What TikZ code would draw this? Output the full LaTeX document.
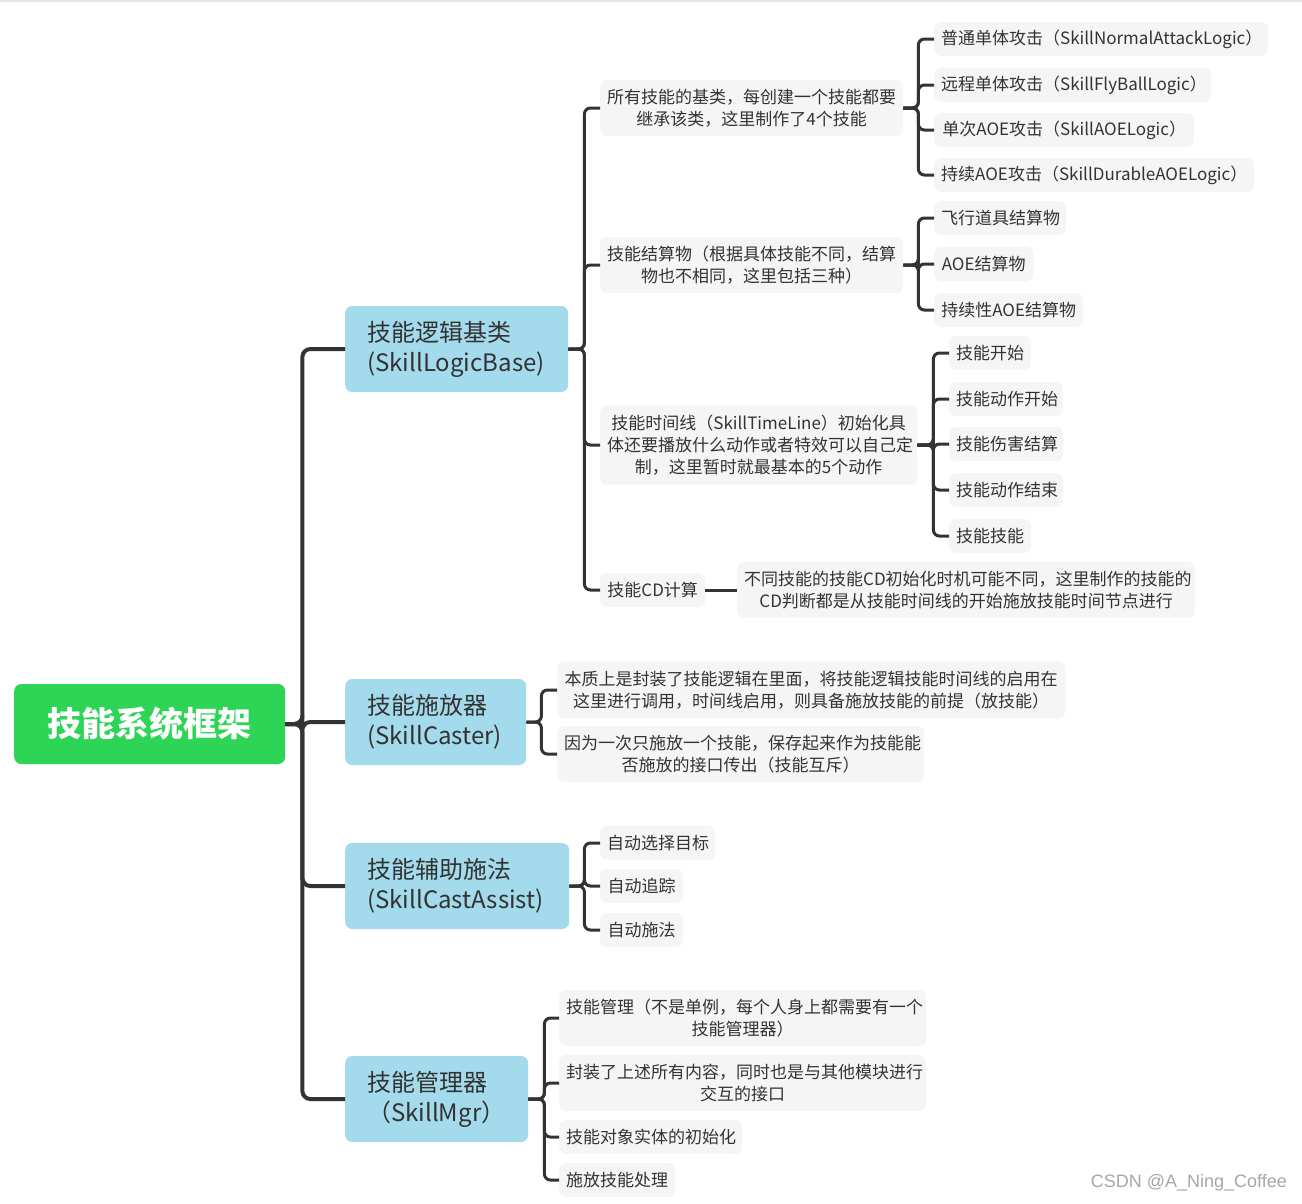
\documentclass[tikz,border=0pt]{standalone}
\usepackage{fontspec}
\setmainfont{Noto Sans CJK SC}
\newfontfamily\wmfont{Liberation Sans}
\definecolor{rootg}{HTML}{2DD455}
\definecolor{lblue}{HTML}{A3DAEC}
\definecolor{gfill}{HTML}{F5F5F5}
\definecolor{ink}{HTML}{333333}
\begin{document}
\begin{tikzpicture}[x=1pt,y=-1pt,
  rootbox/.style={fill=rootg, rounded corners=7, text=white, font=\fontsize{34}{40}\selectfont\bfseries, anchor=west, minimum width=271, minimum height=80, inner sep=0},
  lonebox/.style={fill=lblue, rounded corners=7, text=ink, font=\fontsize{24}{30}\selectfont, align=left, anchor=west, minimum height=86, inner xsep=22, inner ysep=0},
  gbox/.style={fill=gfill, rounded corners=7, text=ink, font=\fontsize{17}{22}\selectfont, align=center, anchor=west, minimum height=34, inner xsep=7, inner ysep=0},
  conn/.style={draw=ink, line width=3, rounded corners=6},
  trunk/.style={draw=ink, line width=4, rounded corners=8}]
\useasboundingbox (0,0) rectangle (1302,1203);
\fill[gray!20] (0,0) rectangle (1302,2);

% root
\node[rootbox] (root) at (14,724) {技能系统框架};

% level 1
\node[lonebox, text width=179] (la) at (345,349) {技能逻辑基类\\(SkillLogicBase)};
\node[lonebox, text width=137] (lb) at (345,722) {技能施放器\\(SkillCaster)};
\node[lonebox, text width=180] (lc) at (345,886) {技能辅助施法\\(SkillCastAssist)};
\node[lonebox, text width=139] (ld) at (345,1099) {技能管理器\\（SkillMgr）};

% level 2 under la
\node[gbox, text width=289, minimum height=56] (a1) at (600,108) {所有技能的基类，每创建一个技能都要\\继承该类，这里制作了4个技能};
\node[gbox, text width=289, minimum height=56] (a2) at (600,265) {技能结算物（根据具体技能不同，结算\\物也不相同，这里包括三种）};
\node[gbox, text width=303, minimum height=79] (a3) at (600,445) {技能时间线（SkillTimeLine）初始化具\\体还要播放什么动作或者特效可以自己定\\制，这里暂时就最基本的5个动作};
\node[gbox, text width=91] (a4) at (600,590) {技能CD计算};
\node[gbox, text width=444, minimum height=56] (a4c) at (737,590) {不同技能的技能CD初始化时机可能不同，这里制作的技能的\\CD判断都是从技能时间线的开始施放技能时间节点进行};

% a1 children
\node[gbox, text width=320] (a11) at (934,39) {普通单体攻击（SkillNormalAttackLogic）};
\node[gbox, text width=263] (a12) at (934,85) {远程单体攻击（SkillFlyBallLogic）};
\node[gbox, text width=246] (a13) at (934,130) {单次AOE攻击（SkillAOELogic）};
\node[gbox, text width=306] (a14) at (934,175) {持续AOE攻击（SkillDurableAOELogic）};

% a2 children
\node[gbox, text width=118] (a21) at (934,218) {飞行道具结算物};
\node[gbox, text width=85] (a22) at (934,264) {AOE结算物};
\node[gbox, text width=135] (a23) at (934,310) {持续性AOE结算物};

% a3 children
\node[gbox, text width=68] (a31) at (949,353) {技能开始};
\node[gbox, text width=100] (a32) at (949,399) {技能动作开始};
\node[gbox, text width=100] (a33) at (949,444) {技能伤害结算};
\node[gbox, text width=100] (a34) at (949,490) {技能动作结束};
\node[gbox, text width=68] (a35) at (949,536) {技能技能};

% lb children
\node[gbox, text width=494, minimum height=57] (b1) at (557,690) {本质上是封装了技能逻辑在里面，将技能逻辑技能时间线的启用在\\这里进行调用，时间线启用，则具备施放技能的前提（放技能）};
\node[gbox, text width=353, minimum height=56] (b2) at (557,754) {因为一次只施放一个技能，保存起来作为技能能\\否施放的接口传出（技能互斥）};

% lc children
\node[gbox, text width=101] (c1) at (600,843) {自动选择目标};
\node[gbox, text width=69] (c2) at (600,886) {自动追踪};
\node[gbox, text width=69] (c3) at (600,930) {自动施法};

% ld children
\node[gbox, text width=353, minimum height=56] (d1) at (559,1018) {技能管理（不是单例，每个人身上都需要有一个\\技能管理器）};
\node[gbox, text width=353, minimum height=56] (d2) at (559,1083) {封装了上述所有内容，同时也是与其他模块进行\\交互的接口};
\node[gbox, text width=169] (d3) at (559,1137) {技能对象实体的初始化};
\node[gbox, text width=102] (d4) at (559,1180) {施放技能处理};

% connectors: trunk
\foreach \c in {la,lb,lc,ld} \draw[trunk] (root.east) -- ++(17,0) |- (\c.west);
% brackets
\foreach \c in {a1,a2,a3,a4} \draw[conn] (la.east) -- ++(16,0) |- (\c.west);
\foreach \c in {a11,a12,a13,a14} \draw[conn] (a1.east) -- ++(15,0) |- (\c.west);
\foreach \c in {a21,a22,a23} \draw[conn] (a2.east) -- ++(15,0) |- (\c.west);
\foreach \c in {a31,a32,a33,a34,a35} \draw[conn] (a3.east) -- ++(16,0) |- (\c.west);
\draw[conn] (a4.east) -- (a4c.west);
\foreach \c in {b1,b2} \draw[conn] (lb.east) -- ++(15,0) |- (\c.west);
\foreach \c in {c1,c2,c3} \draw[conn] (lc.east) -- ++(15,0) |- (\c.west);
\foreach \c in {d1,d2,d3,d4} \draw[conn] (ld.east) -- ++(16,0) |- (\c.west);

% watermark
\node[anchor=east, text=gray!70, font=\wmfont\fontsize{18}{20}\selectfont, inner sep=0] (wm) at (1287,1183) {CSDN @A\_Ning\_Coffee};
\end{tikzpicture}
\end{document}
